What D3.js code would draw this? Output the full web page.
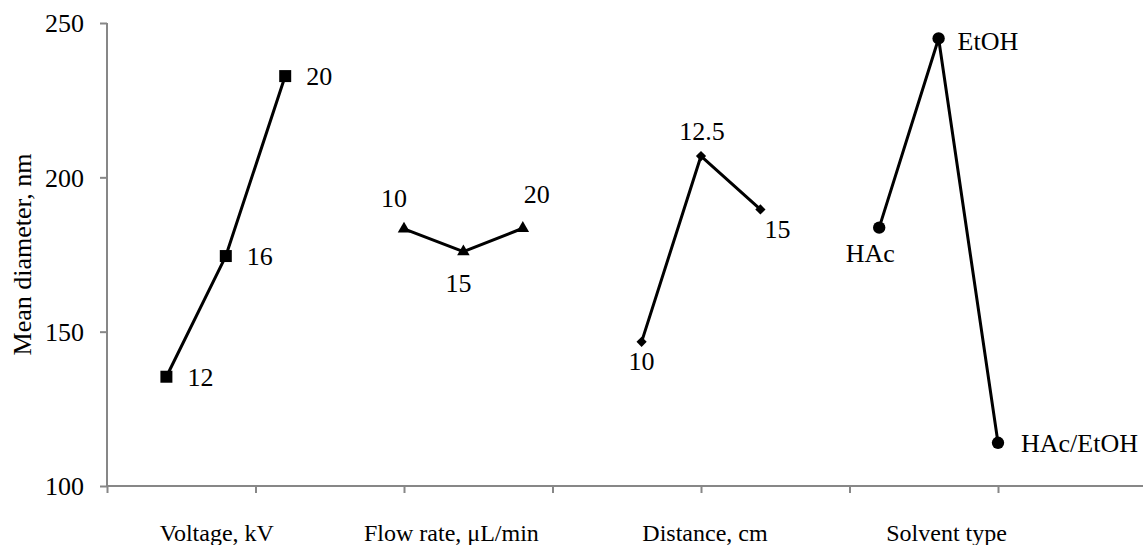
<!DOCTYPE html>
<html>
<head>
<meta charset="utf-8">
<script src="https://cdn.jsdelivr.net/npm/d3@7"></script>
<style>
  html, body { margin: 0; padding: 0; background: #fff; }
  svg text { font-family: "Liberation Serif", "Times New Roman", serif; fill: #000; }
</style>
</head>
<body>
<svg id="chart" width="1143" height="545"></svg>
<script>
// factor groups shown along the x axis
const groups = ['Voltage, kV', 'Flow rate, μL/min', 'Distance, cm', 'Solvent type'];

// level names (used as point labels) and mean diameters, nm
const voltageLevels = ['12', '16', '20'];
const voltageValues = [135.4, 174.5, 232.8];

const flowLevels = ['10', '15', '20'];
const flowValues = [183.3, 175.9, 183.5];

const distanceLevels = ['10', '12.5', '15'];
const distanceValues = [146.7, 206.9, 189.6];

const solventLevels = ['HAc', 'EtOH', 'HAc/EtOH'];
const solventValues = [183.7, 245.0, 114.0];

const yTicks = [100, 150, 200, 250];

const series = [
  { levels: voltageLevels, values: voltageValues, symbol: 'square' },
  { levels: flowLevels, values: flowValues, symbol: 'triangle' },
  { levels: distanceLevels, values: distanceValues, symbol: 'diamond' },
  { levels: solventLevels, values: solventValues, symbol: 'circle' },
];

// label placement (px offset from the marker, text anchor) – hand-placed like the original
const labelPlacement = [
  [[21, 9, 'start'], [21, 9, 'start'], [21, 9, 'start']],
  [[-10, -22, 'middle'], [-5, 40, 'middle'], [14, -25, 'middle']],
  [[0, 28, 'middle'], [1, -16, 'middle'], [17, 29, 'middle']],
  [[-9, 34, 'middle'], [19, 12, 'start'], [23, 9, 'start']],
];
const groupLabelShift = [-9, -12, 4, 8];

const svg = d3.select('#chart');
const W = 1143;
const plotLeft = 107, plotTop = 23, plotBottom = 486;

// scatter-style x axis: 0..17.5 with ticks every 2.5, one empty slot between groups
const x = d3.scaleLinear().domain([0, 17.5]).range([plotLeft, plotLeft + 17.5 * 59.4]);
const y = d3.scaleLinear().domain([100, 250]).range([plotBottom, plotTop]);

const axisColor = '#878787';

// y axis
const yAxis = svg.append('g')
  .attr('transform', `translate(${plotLeft},0)`)
  .call(d3.axisLeft(y).tickValues(yTicks).tickSize(7).tickPadding(16));
yAxis.select('.domain').attr('stroke', axisColor).attr('stroke-width', 2)
  .attr('d', `M0,${plotBottom}V${plotTop}`);
yAxis.selectAll('.tick line').attr('stroke', axisColor).attr('stroke-width', 2);
yAxis.selectAll('.tick text')
  .style('font-size', '26px')
  .attr('dy', '0.34em')
  .attr('fill', '#000');

// x axis (no tick labels)
const xAxis = svg.append('g')
  .attr('transform', `translate(0,${plotBottom})`)
  .call(d3.axisBottom(x).tickValues(d3.range(0, 17.6, 2.5)).tickSize(7).tickFormat(''));
xAxis.select('.domain').attr('stroke', axisColor).attr('stroke-width', 2)
  .attr('d', `M${plotLeft},0H${W}`);
xAxis.selectAll('.tick line').attr('stroke', axisColor).attr('stroke-width', 2);

// group names under the axis
svg.append('g').selectAll('text')
  .data(groups)
  .join('text')
    .attr('x', (d, g) => x(2 + 4 * g) + groupLabelShift[g])
    .attr('y', 541)
    .attr('text-anchor', 'middle')
    .style('font-size', '24px')
    .text(d => d);

// y axis title
svg.append('text')
  .attr('transform', `translate(31,${(plotTop + plotBottom) / 2}) rotate(-90)`)
  .attr('text-anchor', 'middle')
  .style('font-size', '26px')
  .text('Mean diameter,  nm');

const symbols = {
  square: d3.symbol().type(d3.symbolSquare).size(144),
  triangle: d3.symbol().type(d3.symbolTriangle).size(68),
  diamond: d3.symbol().type(d3.symbolSquare).size(52),
  circle: d3.symbol().type(d3.symbolCircle).size(120),
};

const line = d3.line().x(d => x(d.xv)).y(d => y(d.value));

series.forEach((s, g) => {
  const pts = s.values.map((v, i) => ({
    xv: 1 + 4 * g + i, value: v, label: s.levels[i], place: labelPlacement[g][i]
  }));
  const grp = svg.append('g');

  grp.append('path')
    .datum(pts)
    .attr('d', line)
    .attr('fill', 'none')
    .attr('stroke', '#000')
    .attr('stroke-width', 3)
    .attr('stroke-linejoin', 'round');

  grp.selectAll('path.mark')
    .data(pts)
    .join('path')
      .attr('class', 'mark')
      .attr('d', symbols[s.symbol])
      .attr('transform', d => `translate(${x(d.xv)},${y(d.value)})` + (s.symbol === 'diamond' ? ' rotate(45)' : ''))
      .attr('fill', '#000');

  grp.selectAll('text')
    .data(pts)
    .join('text')
      .attr('x', d => x(d.xv) + d.place[0])
      .attr('y', d => y(d.value) + d.place[1])
      .attr('text-anchor', d => d.place[2])
      .style('font-size', '26px')
      .text(d => d.label);
});
</script>
</body>
</html>
